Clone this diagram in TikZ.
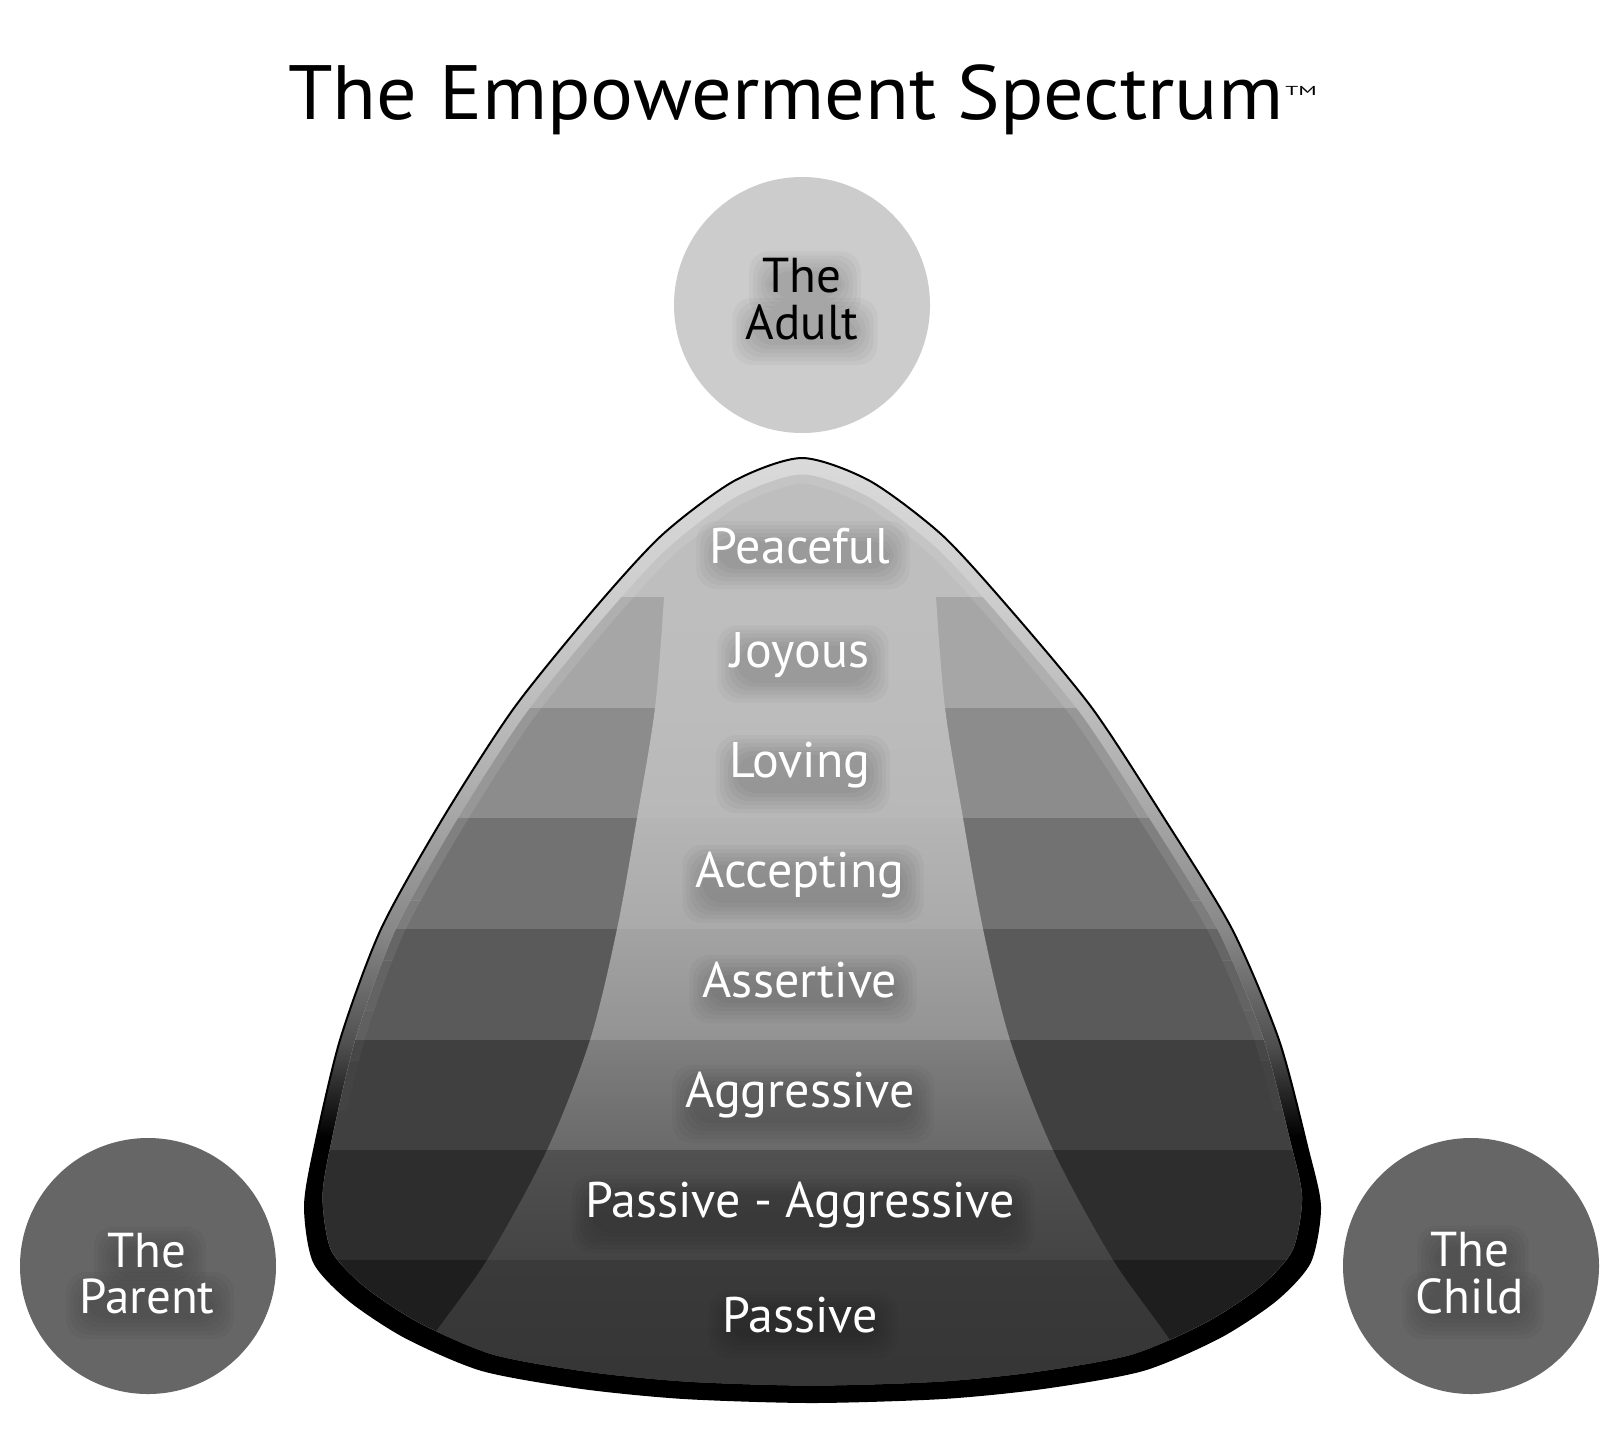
\documentclass[tikz,border=0pt]{standalone}
\usepackage{fontspec}
\setmainfont{PT Sans}
\usetikzlibrary{calc}
\pgfdeclarelayer{front}
\pgfsetlayers{main,front}
\definecolor{rimA}{HTML}{505050}
\definecolor{rimB}{HTML}{888888}
\definecolor{rimC}{HTML}{B0B0B0}
\definecolor{rimD}{HTML}{CCCCCC}
\definecolor{rimE}{HTML}{DADADA}
\definecolor{peace}{HTML}{BEBEBE}
\definecolor{side1}{HTML}{A6A6A6}
\definecolor{side2}{HTML}{8C8C8C}
\definecolor{side3}{HTML}{727272}
\definecolor{side4}{HTML}{5A5A5A}
\definecolor{side5}{HTML}{404040}
\definecolor{side6}{HTML}{2D2D2D}
\definecolor{side7}{HTML}{1E1E1E}
\definecolor{ct1}{HTML}{BEBEBE}\definecolor{cb1}{HTML}{BCBCBC}
\definecolor{ct2}{HTML}{BCBCBC}\definecolor{cb2}{HTML}{B8B8B8}
\definecolor{ct3}{HTML}{B5B5B5}\definecolor{cb3}{HTML}{AAAAAA}
\definecolor{ct4}{HTML}{A3A3A3}\definecolor{cb4}{HTML}{939393}
\definecolor{ct5}{HTML}{7F7F7F}\definecolor{cb5}{HTML}{6A6A6A}
\definecolor{ct6}{HTML}{515151}\definecolor{cb6}{HTML}{444444}
\definecolor{ct7}{HTML}{3A3A3A}\definecolor{cb7}{HTML}{333333}
\definecolor{adultgray}{HTML}{CCCCCC}
\definecolor{pcgray}{HTML}{666666}
\pgfdeclareverticalshading{rimshade}{100bp}{color(0bp)=(black); color(39bp)=(black); color(44bp)=(rimA); color(50bp)=(rimB); color(58bp)=(rimC); color(67bp)=(rimD); color(75bp)=(rimE); color(100bp)=(rimE)}
\newcommand\EStitle{\fontsize{38.5}{40}\selectfont}
\newcommand\ESlabel{\fontsize{25}{26}\selectfont}
\newcommand\EScirc{\fontsize{24.5}{25}\selectfont}
\newcommand\EStm{\fontsize{6.5}{7}\selectfont}
\def\outerpath{plot[smooth cycle, tension=0.45] coordinates {(802,458) (870,481) (942,535) (1009,608) (1092,708) (1164,818) (1232,929) (1279,1040) (1308,1150) (1320,1207) (1310,1262) (1276,1300) (1220,1337) (1143,1370) (1043,1388) (943,1398) (812,1402) (684,1398) (582,1388) (482,1370) (405,1337) (349,1300) (314,1262) (305,1207) (314,1150) (340,1040) (381,929) (443,818) (514,708) (595,608) (662,535) (734,481)}}
\def\bandpath{plot[smooth, tension=0.5] coordinates {(666,540) (664,597) (655,708) (637,818) (617,929) (590,1040) (547,1150) (487,1260) (427,1345) (395,1410)} -- plot[smooth, tension=0.5] coordinates {(1205,1410) (1173,1345) (1113,1260) (1053,1150) (1010,1040) (983,929) (963,818) (945,708) (936,597) (934,540)} -- cycle}
\newcommand\ESshadow[1]{%
  \foreach \m in {16,12,8,4,0,-4}{%
    \fill[black, opacity=0.03, rounded corners=10pt] ($(#1.south west)+({3-\m},{9+\m})$) rectangle ($(#1.north east)+({3+\m},{10-\m})$);}}
\newcommand\EStext[5]{%
  \begin{pgfonlayer}{front}\node[#4, anchor=base] (#1) at (#2,#3) {#5};\end{pgfonlayer}%
  \ESshadow{#1}}
\begin{document}
\begin{tikzpicture}[x=0.5pt,y=-0.5pt,
  lab/.style={text=white, font=\ESlabel, inner sep=0pt},
  ctext/.style={font=\EScirc, inner sep=0pt},
  circ/.style={circle, minimum size=128pt, inner sep=0pt, draw=none},
  inner/.style={shift={(807,930)}, scale=0.965, shift={(-807,-930)}},
  bevel/.style={white, line width=9pt, inner}]
\useasboundingbox (0,0) rectangle (1620,1440);
\fill[white] (0,0) rectangle (1620,1440);
% title
\node[anchor=base west, font=\EStitle, inner sep=0pt] (title) at (288,119) {\scalebox{1.043}[1]{The Empowerment Spectrum}};
\node[anchor=base west, font=\EStm, inner sep=0pt] (tm) at (1285,95) {\scalebox{1.8}[1]{TM}};
% circles
\node[circ, fill=adultgray] (adult) at (802,305) {};
\node[circ, fill=pcgray] (parent) at (148,1266) {};
\node[circ, fill=pcgray] (child) at (1471,1266) {};
% blob: rim
\shade[shading=rimshade] \outerpath;
% blob: inner rows
\begin{scope}
  \clip[inner] \outerpath;
  \fill[peace] (0,400) rectangle (1620,1450);
  \foreach \yt/\yb/\k in {597/708/1,708/818/2,818/929/3,929/1040/4,1040/1150/5,1150/1260/6,1260/1450/7}{
    \begin{scope}
      \clip (0,\yt) rectangle (1620,\yb);
      \fill[fill=side\k] (0,\yt) rectangle (1620,\yb);
      \clip \bandpath;
      \shade[top color=ct\k, bottom color=cb\k] (0,\yt) rectangle (1620,\yb);
    \end{scope}
  }
  \foreach \yt/\yb/\op in {400/900/0.10, 900/960/0.08, 960/1010/0.06, 1010/1060/0.04, 1060/1110/0.02}{
    \begin{scope}
      \clip (0,\yt) rectangle (1620,\yb);
      \draw[bevel, opacity=\op] \outerpath;
    \end{scope}
  }
\end{scope}
\draw[black, line width=1pt] \outerpath;
% labels
\EStext{peaceful}{800}{563}{lab}{Peaceful}
\EStext{joyous}{800}{667}{lab}{Joyous}
\EStext{loving}{800}{777}{lab}{Loving}
\EStext{accepting}{800}{887}{lab}{Accepting}
\EStext{assertive}{800}{997}{lab}{Assertive}
\EStext{aggressive}{800}{1107}{lab}{Aggressive}
\EStext{passagg}{800}{1217}{lab}{Passive - Aggressive}
\EStext{passive}{800}{1332}{lab}{Passive}
% circle texts
\EStext{adultA}{802}{292}{ctext}{The}
\EStext{adultB}{802}{339}{ctext}{Adult}
\EStext{parentA}{147}{1267}{ctext, text=white}{The}
\EStext{parentB}{147}{1313}{ctext, text=white}{Parent}
\EStext{childA}{1470}{1266}{ctext, text=white}{The}
\EStext{childB}{1470}{1313}{ctext, text=white}{Child}
\end{tikzpicture}
\end{document}
